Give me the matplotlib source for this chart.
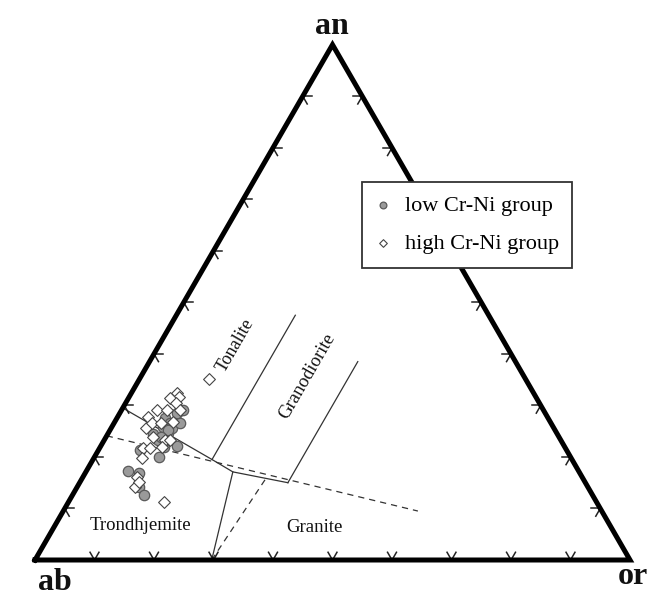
import numpy as np
import matplotlib
matplotlib.use('Agg')
import matplotlib.pyplot as plt

plt.rcParams['font.family'] = ['Liberation Serif', 'DejaVu Serif']

# ternary compositions in percent (an, or); ab = 100 - an - or
low_an = [29.1, 28.5, 27.5, 26.5, 25.9, 24.4, 24.6, 22.1, 20.0, 21.3, 22.0, 17.3, 16.9,
          14.2, 12.6, 23.3, 25.6, 23.3, 26.6, 25.2, 23.9]
low_or = [10.4, 9.6, 8.1, 9.4, 8.6, 7.7, 10.1, 12.8, 10.9, 7.0, 10.6, 7.0, 9.1,
          10.3, 12.1, 9.1, 10.2, 10.5, 11.1, 9.8, 9.2]

high_an = [35.1, 32.5, 31.7, 31.4, 30.4, 29.1, 27.8, 29.1, 29.1, 25.6, 26.6, 26.5, 26.8,
           23.9, 23.3, 21.7, 21.7, 19.7, 22.0, 23.3, 16.2, 14.2, 11.2, 15.2]
high_or = [11.7, 7.6, 8.4, 7.0, 8.5, 5.9, 5.1, 7.6, 9.8, 5.9, 6.3, 8.0, 9.8,
           7.9, 10.2, 7.3, 8.5, 8.1, 10.3, 11.0, 9.0, 9.7, 16.0, 9.9]

# field boundaries (an, or)
solid_lines = [
    [(29.5, 0), (19.5, 20), (17.1, 24.7), (15.0, 35.0)],
    [(19.5, 20), (47.5, 20)],
    [(15.0, 35.0), (38.5, 35)],
    [(17.1, 24.7), (0, 29.7)],
]
dashed_lines = [
    [(0, 29.7), (15.9, 30.9)],
    [(24.1, 0), (9.5, 59.6)],
]

S3 = np.sqrt(3) / 2


def tern(an, orr):
    an = np.asarray(an, dtype=float)
    orr = np.asarray(orr, dtype=float)
    return (orr + an / 2) / 100, an * S3 / 100


fig = plt.figure(figsize=(6.63, 5.99), dpi=100)
ax = fig.add_axes([0, 0, 1, 1])
ax.set_xlim(-35 / 595, 628 / 595)
ax.set_ylim(-39 / 595, 560 / 595)
ax.axis('off')

# triangle
tx, ty = tern([0, 0, 100, 0], [0, 100, 0, 0])
ax.plot(tx, ty, color='black', lw=3.6, solid_joinstyle='miter', zorder=3)

# chevron ticks every 10 %
L = 0.015
for k in range(1, 10):
    f = k / 10
    edges = [((f, 0.0), 90), ((1 - f / 2, f * S3), 210), ((0.5 - f / 2, S3 - f * S3), 330)]
    for (px, py), nrm in edges:
        for a in (nrm - 30, nrm + 30):
            r = np.radians(a)
            ax.plot([px, px + L * np.cos(r)], [py, py + L * np.sin(r)],
                    color='#222222', lw=1.1, zorder=2)

for seg in solid_lines:
    an, orr = zip(*seg)
    x, y = tern(an, orr)
    ax.plot(x, y, color='#333333', lw=0.9, zorder=1)
for seg in dashed_lines:
    an, orr = zip(*seg)
    x, y = tern(an, orr)
    ax.plot(x, y, color='#333333', lw=0.9, dashes=(5, 4), zorder=1)

lx, ly = tern(low_an, low_or)
hx, hy = tern(high_an, high_or)
ax.scatter(lx, ly, s=56, marker='o', facecolor='#9a9a9a', edgecolor='#5a5a5a',
           linewidths=0.9, zorder=4, label='low Cr-Ni group')
ax.scatter(hx, hy, s=36, marker='D', facecolor='white', edgecolor='#444444',
           linewidths=0.8, zorder=5, label='high Cr-Ni group')


def px2d(px, py):
    return (px - 35) / 595, (560 - py) / 595


tc = '#111111'
ax.text(*px2d(332, 27), 'an', fontsize=23, fontweight='bold', ha='center', va='center', color=tc)
ax.text(*px2d(55, 583), 'ab', fontsize=23, fontweight='bold', ha='center', va='center', color=tc)
ax.text(*px2d(633, 577), 'or', fontsize=23, fontweight='bold', ha='center', va='center', color=tc)

ax.text(*px2d(235, 345), 'Tonalite', fontsize=13, rotation=60, ha='center', va='center', color=tc)
ax.text(*px2d(307, 376), 'Granodiorite', fontsize=13.5, rotation=60, ha='center', va='center', color=tc)
ax.text(*px2d(140, 525), 'Trondhjemite', fontsize=13.5, ha='center', va='center', color=tc)
ax.text(*px2d(314, 527), 'Granite', fontsize=13.5, ha='center', va='center', color=tc)

leg = ax.legend(loc='upper left', bbox_to_anchor=(362 / 663, 1 - 182 / 599),
                bbox_transform=fig.transFigure, borderaxespad=0, fontsize=16,
                frameon=True, fancybox=False, edgecolor='#333333', framealpha=1,
                markerscale=0.65, handletextpad=0.62, labelspacing=0.8,
                borderpad=0.6, handlelength=0.7)
leg.get_frame().set_linewidth(1.3)

fig.savefig('out.png', dpi=100)
